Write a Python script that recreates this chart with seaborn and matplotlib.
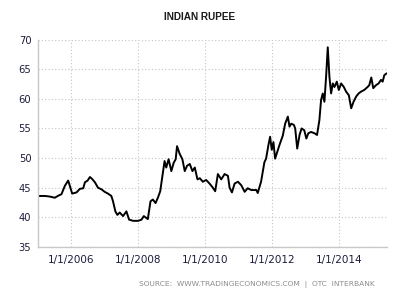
import numpy as np
import pandas as pd
import matplotlib
matplotlib.use("Agg")
import matplotlib.pyplot as plt
import seaborn as sns

# decimal years of the readings
years = [2005.00, 2005.23, 2005.37, 2005.52, 2005.61, 2005.72, 2005.82, 2005.92, 2005.97,
         2006.04, 2006.17, 2006.27, 2006.37, 2006.42, 2006.50, 2006.57, 2006.63, 2006.72,
         2006.81, 2006.92, 2007.01, 2007.11, 2007.21, 2007.26, 2007.33, 2007.39, 2007.46,
         2007.56, 2007.66, 2007.74, 2007.86, 2008.01, 2008.11, 2008.18, 2008.30, 2008.38,
         2008.45, 2008.53, 2008.60, 2008.67, 2008.75, 2008.80, 2008.85, 2008.92, 2009.00,
         2009.07, 2009.13, 2009.17, 2009.25, 2009.33, 2009.40, 2009.47, 2009.55, 2009.63,
         2009.70, 2009.78, 2009.85, 2009.94, 2010.04, 2010.14, 2010.24, 2010.31, 2010.39,
         2010.49, 2010.59, 2010.69, 2010.74, 2010.81, 2010.89, 2010.99, 2011.09, 2011.19,
         2011.28, 2011.39, 2011.54, 2011.58, 2011.68, 2011.78, 2011.83, 2011.90, 2011.95,
         2012.00, 2012.05, 2012.10, 2012.23, 2012.33, 2012.40, 2012.48, 2012.53, 2012.58,
         2012.66, 2012.70, 2012.76, 2012.83, 2012.89, 2012.97, 2013.03, 2013.09, 2013.17,
         2013.27, 2013.35, 2013.42, 2013.47, 2013.52, 2013.57, 2013.62, 2013.67, 2013.72,
         2013.77, 2013.82, 2013.87, 2013.94, 2014.00, 2014.07, 2014.15, 2014.22, 2014.30,
         2014.37, 2014.44, 2014.52, 2014.59, 2014.66, 2014.76, 2014.86, 2014.91, 2014.97,
         2015.03, 2015.11, 2015.19, 2015.26, 2015.31, 2015.36, 2015.43]

rupee = [43.6, 43.6, 43.5, 43.3, 43.6, 43.9, 45.3, 46.2, 45.3,
         44.0, 44.2, 44.8, 44.9, 45.9, 46.2, 46.8, 46.5, 45.9,
         45.0, 44.7, 44.3, 44.0, 43.6, 42.7, 41.0, 40.4, 40.8,
         40.2, 41.0, 39.6, 39.4, 39.4, 39.6, 40.2, 39.7, 42.7,
         43.0, 42.4, 43.3, 44.4, 47.6, 49.5, 48.4, 49.8, 47.8,
         49.2, 49.8, 52.0, 50.7, 49.8, 47.8, 48.7, 49.0, 47.8,
         48.4, 46.4, 46.6, 46.0, 46.3, 45.7, 45.0, 44.4, 47.3,
         46.4, 47.3, 47.0, 45.0, 44.2, 45.7, 46.0, 45.4, 44.3,
         44.9, 44.6, 44.6, 44.1, 46.0, 49.3, 49.9, 52.2, 53.6,
         51.4, 52.7, 49.9, 52.2, 53.8, 55.8, 57.0, 55.3, 55.8,
         55.6, 55.0, 51.6, 53.9, 55.0, 54.7, 53.3, 54.2, 54.4,
         54.2, 53.9, 56.4, 59.8, 60.9, 59.5, 63.7, 68.7, 63.7,
         60.9, 62.6, 62.0, 62.9, 61.5, 62.6, 62.0, 61.2, 60.6,
         58.4, 59.5, 60.4, 60.9, 61.2, 61.5, 62.0, 62.3, 63.6,
         61.8, 62.3, 62.6, 63.2, 62.9, 64.0, 64.3]

tick_years = [2006, 2008, 2010, 2012, 2014]
tick_labels = ["1/1/2006", "1/1/2008", "1/1/2010", "1/1/2012", "1/1/2014"]
y_ticks = [35, 40, 45, 50, 55, 60, 65, 70]
title = "INDIAN RUPEE"
source = "SOURCE:  WWW.TRADINGECONOMICS.COM  |  OTC  INTERBANK"


def to_date(y):
    base = pd.Timestamp(year=int(y), month=1, day=1)
    return base + pd.Timedelta(days=(y - int(y)) * 365.25)


df = pd.DataFrame({"date": [to_date(y) for y in years], "rate": rupee})

sns.set_style("white")
plt.rcParams["font.family"] = ["DejaVu Sans"]

fig = plt.figure(figsize=(4, 3), dpi=100)
ax = fig.add_axes([0.094, 0.177, 0.8735, 0.691])
sns.lineplot(data=df, x="date", y="rate", ax=ax, color="black", linewidth=1.4)

ax.set_ylim(35, 70)
ax.set_yticks(y_ticks)
ax.set_xlim(to_date(2005.007), to_date(2015.44))
ax.set_xticks([pd.Timestamp(year=y, month=1, day=1) for y in tick_years])
ax.set_xticklabels(tick_labels)
ax.set_xlabel("")
ax.set_ylabel("")

ax.grid(True, linestyle=(0, (1, 2)), color="#c4c4c4", linewidth=0.8)
for s in ["top", "right"]:
    ax.spines[s].set_visible(False)
for s in ["left", "bottom"]:
    ax.spines[s].set_color("#c8c8c8")
    ax.spines[s].set_linewidth(1.0)

ax.tick_params(axis="y", length=3, width=0.8, color="#c8c8c8", labelsize=7.2,
               labelcolor="#1c1c3c", pad=1.5)
ax.tick_params(axis="x", length=0, labelsize=7.5, labelcolor="#1c1c3c", pad=6)

fig.text(0.5, 1 - 16.5 / 300, title, ha="center", va="center", fontsize=7.2,
         fontweight="bold", color="#1a1a1a", family=["Liberation Sans"])
fig.text(375 / 400, 1 - 284 / 300, source, ha="right", va="center", fontsize=5.4,
         color="#8c8c8c")

fig.savefig("out.png", dpi=100)
